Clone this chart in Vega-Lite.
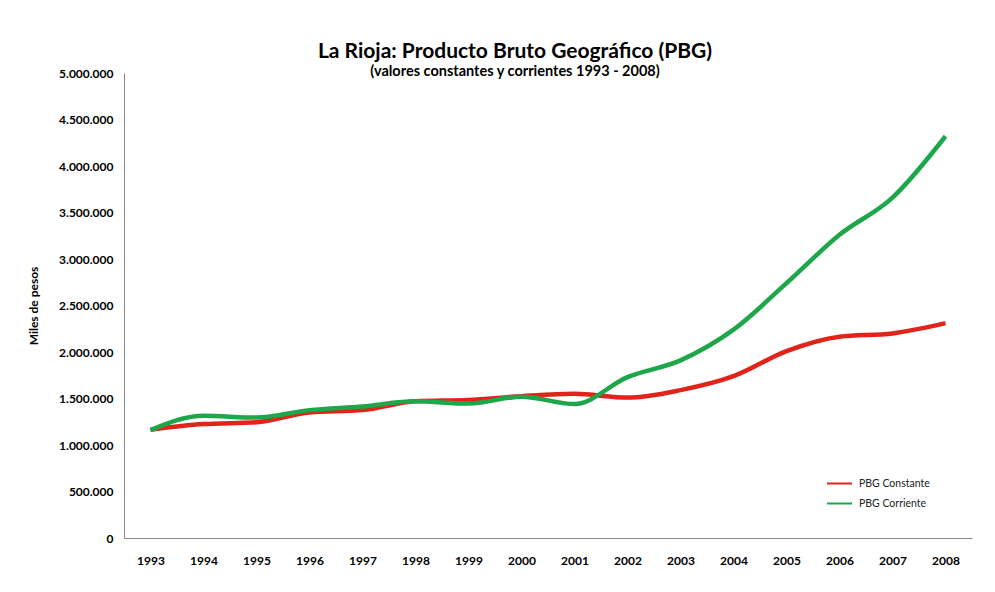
{
  "$schema": "https://vega.github.io/schema/vega-lite/v6.json",
  "autosize": "none",
  "width": 848,
  "height": 465,
  "padding": {"left": 124, "top": 73, "right": 23, "bottom": 54},
  "background": "white",
  "title": {
    "text": "La Rioja: Producto Bruto Geográfico (PBG)",
    "subtitle": "(valores constantes y corrientes 1993 - 2008)",
    "font": "Lato",
    "fontSize": 21,
    "fontWeight": "bold",
    "color": "#000000",
    "subtitleFont": "Lato",
    "subtitleFontSize": 14.5,
    "subtitleFontWeight": "bold",
    "subtitleColor": "#000000",
    "subtitlePadding": 3,
    "anchor": "middle",
    "dx": -33,
    "offset": -11
  },
  "data": {
    "values": [
      {"year": "1993", "serie": "PBG Constante", "valor": 1165000},
      {"year": "1994", "serie": "PBG Constante", "valor": 1225000},
      {"year": "1995", "serie": "PBG Constante", "valor": 1245000},
      {"year": "1996", "serie": "PBG Constante", "valor": 1350000},
      {"year": "1997", "serie": "PBG Constante", "valor": 1375000},
      {"year": "1998", "serie": "PBG Constante", "valor": 1470000},
      {"year": "1999", "serie": "PBG Constante", "valor": 1485000},
      {"year": "2000", "serie": "PBG Constante", "valor": 1525000},
      {"year": "2001", "serie": "PBG Constante", "valor": 1550000},
      {"year": "2002", "serie": "PBG Constante", "valor": 1510000},
      {"year": "2003", "serie": "PBG Constante", "valor": 1590000},
      {"year": "2004", "serie": "PBG Constante", "valor": 1740000},
      {"year": "2005", "serie": "PBG Constante", "valor": 2010000},
      {"year": "2006", "serie": "PBG Constante", "valor": 2165000},
      {"year": "2007", "serie": "PBG Constante", "valor": 2200000},
      {"year": "2008", "serie": "PBG Constante", "valor": 2310000},
      {"year": "1993", "serie": "PBG Corriente", "valor": 1160000},
      {"year": "1994", "serie": "PBG Corriente", "valor": 1315000},
      {"year": "1995", "serie": "PBG Corriente", "valor": 1295000},
      {"year": "1996", "serie": "PBG Corriente", "valor": 1375000},
      {"year": "1997", "serie": "PBG Corriente", "valor": 1415000},
      {"year": "1998", "serie": "PBG Corriente", "valor": 1470000},
      {"year": "1999", "serie": "PBG Corriente", "valor": 1445000},
      {"year": "2000", "serie": "PBG Corriente", "valor": 1520000},
      {"year": "2001", "serie": "PBG Corriente", "valor": 1440000},
      {"year": "2002", "serie": "PBG Corriente", "valor": 1730000},
      {"year": "2003", "serie": "PBG Corriente", "valor": 1910000},
      {"year": "2004", "serie": "PBG Corriente", "valor": 2240000},
      {"year": "2005", "serie": "PBG Corriente", "valor": 2740000},
      {"year": "2006", "serie": "PBG Corriente", "valor": 3260000},
      {"year": "2007", "serie": "PBG Corriente", "valor": 3660000},
      {"year": "2008", "serie": "PBG Corriente", "valor": 4320000}
    ]
  },
  "mark": {"type": "line", "interpolate": "monotone", "strokeWidth": 4.5},
  "encoding": {
    "x": {
      "field": "year",
      "type": "ordinal",
      "scale": {"type": "point", "padding": 0.5},
      "axis": {
        "title": null,
        "labelAngle": 0,
        "labelFont": "Lato",
        "labelFontSize": 12,
        "labelFontWeight": "bold",
        "labelColor": "#000000",
        "labelPadding": 17,
        "ticks": false,
        "domainColor": "#868686",
        "domainWidth": 1,
        "grid": false
      }
    },
    "y": {
      "field": "valor",
      "type": "quantitative",
      "scale": {"domain": [0, 5000000], "nice": false},
      "axis": {
        "title": "Miles de pesos",
        "titleFont": "Lato",
        "titleFontSize": 12,
        "titleFontWeight": "bold",
        "titleColor": "#000000",
        "titlePadding": 18,
        "values": [0, 500000, 1000000, 1500000, 2000000, 2500000, 3000000, 3500000, 4000000, 4500000, 5000000],
        "format": ",d",
        "labelFont": "Lato",
        "labelFontSize": 12,
        "labelFontWeight": "bold",
        "labelColor": "#000000",
        "labelPadding": 11,
        "ticks": false,
        "domainColor": "#868686",
        "domainWidth": 1,
        "grid": false
      }
    },
    "color": {
      "field": "serie",
      "type": "nominal",
      "scale": {"domain": ["PBG Constante", "PBG Corriente"], "range": ["#E2231A", "#1DA64A"]},
      "legend": {
        "title": null,
        "orient": "none",
        "legendX": 702,
        "legendY": 397,
        "symbolType": "stroke",
        "symbolSize": 625,
        "symbolStrokeWidth": 2,
        "labelFont": "Lato",
        "labelFontSize": 10.5,
        "labelColor": "#222222",
        "rowPadding": 1,
        "labelOffset": 6
      }
    }
  },
  "config": {
    "locale": {"number": {"decimal": ",", "thousands": ".", "grouping": [3], "currency": ["$", ""]}},
    "view": {"stroke": null}
  }
}
